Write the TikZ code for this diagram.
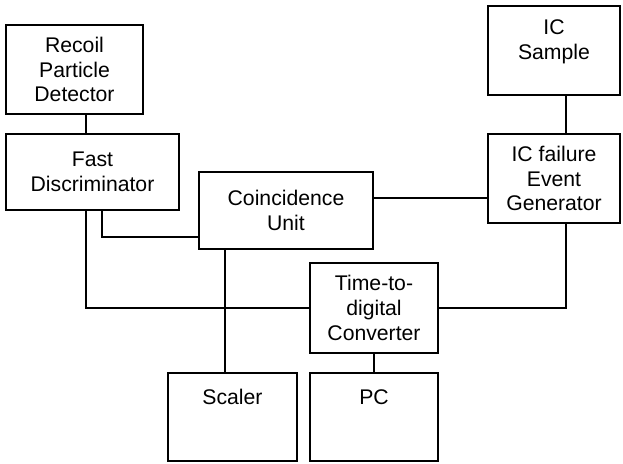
\documentclass[tikz,border=0pt]{standalone}
\usepackage{fontspec}
\setmainfont{Liberation Sans}
\usetikzlibrary{positioning}
\tikzset{blk/.style={draw, line width=0.9pt, inner sep=0pt, align=center, font=\fontsize{10.6}{12.3}\selectfont}}
\begin{document}
\begin{tikzpicture}[x=0.5pt,y=-0.5pt,line width=0.9pt]
\useasboundingbox (0,0) rectangle (623,464);
\node[blk, minimum width=68.5pt, minimum height=44.5pt] (rec) at (74.5,69.5) {Recoil\\Particle\\Detector};
\node[blk, minimum width=86.5pt, minimum height=38pt] (fast) at (92.5,172) {Fast\\Discriminator};
\node[blk, minimum width=87pt, minimum height=38.5pt] (coin) at (286,210.5) {Coincidence\\Unit};
\node[blk, minimum width=66pt, minimum height=44.5pt] (ics) at (554,50.5) {};
\node[blk, minimum width=66pt, minimum height=44.5pt] (iceg) at (554,178.5) {IC failure\\Event\\Generator};
\node[blk, minimum width=64pt, minimum height=45pt] (tdc) at (374,308) {Time-to-\\digital\\Converter};
\node[blk, minimum width=64.5pt, minimum height=44pt] (scaler) at (232.5,417) {};
\node[blk, minimum width=64pt, minimum height=44pt] (pc) at (374,417) {};
\node[blk, draw=none, anchor=center] (icslbl) at ([yshift=-18.25pt]ics.north) {IC\\Sample};
\node[blk, draw=none, anchor=center] (scalerlbl) at ([yshift=-12.5pt]scaler.north) {Scaler};
\node[blk, draw=none, anchor=center] (pclbl) at ([yshift=-12.5pt]pc.north) {PC};
\coordinate (recx) at (86,0);
\coordinate (fastx) at (102,237);
\coordinate (coiny) at (0,198);
\coordinate (icx) at (566,0);
\coordinate (scalerx) at (225,0);
\draw (rec.south -| recx) -- (fast.north -| recx);
\draw (fast.south -| recx) |- (tdc.west);
\draw (fast.south -| fastx) |- (coin.west |- fastx);
\draw (coin.east |- coiny) -- (iceg.west |- coiny);
\draw (ics.south -| icx) -- (iceg.north -| icx);
\draw (iceg.south -| icx) |- (tdc.east);
\draw (coin.south -| scalerx) -- (scaler.north -| scalerx);
\draw (tdc.south) -- (pc.north);
\end{tikzpicture}
\end{document}
